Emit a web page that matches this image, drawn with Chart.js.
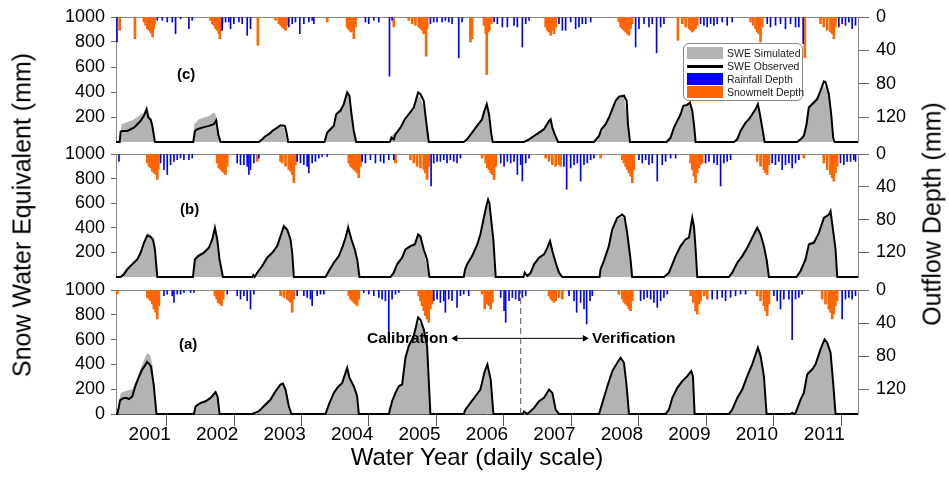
<!DOCTYPE html>
<html>
<head>
<meta charset="utf-8">
<script src="https://cdn.jsdelivr.net/npm/chart.js@4.4.1/dist/chart.umd.min.js"></script>
<style>
  html, body { margin: 0; padding: 0; background: #fff; }
  body { width: 949px; height: 478px; position: relative; overflow: hidden;
         font-family: Arial, "Liberation Sans", sans-serif; }
  .panel { position: absolute; left: 0; width: 949px; }
  .txt { position: absolute; white-space: nowrap; line-height: 1; color: #000; }
  .bold { font-weight: bold; }
  #legend { position: absolute; left: 683px; top: 43px; width: 118px; height: 56px;
            border: 1px solid #888; border-radius: 6px; background: #fff; }
  .row { position: absolute; left: 0; width: 118px; height: 12px; }
  .sw { position: absolute; left: 3px; top: 0; width: 36px; height: 12px; }
  .lab { position: absolute; left: 43px; top: 0; font-size: 10.5px; line-height: 12px; color: #222; white-space: nowrap; }
</style>
</head>
<body>
<div class="panel" style="top:-1px;height:161px"><canvas id="chartC"></canvas></div>
<div class="panel" style="top:136px;height:159px"><canvas id="chartB"></canvas></div>
<div class="panel" style="top:272px;height:172px"><canvas id="chartA"></canvas></div>

<div class="txt bold" style="left:177px;top:66px;font-size:15px">(c)</div>
<div class="txt bold" style="left:180px;top:201px;font-size:15px">(b)</div>
<div class="txt bold" style="left:179px;top:336px;font-size:15px">(a)</div>
<div class="txt bold" style="left:367px;top:330px;font-size:15.5px">Calibration</div>
<div class="txt bold" style="left:592px;top:330px;font-size:15.5px">Verification</div>

<div class="txt" style="left:22px;top:215px;font-size:25px;transform:translate(-50%,-50%) rotate(-90deg)">Snow Water Equivalent (mm)</div>
<div class="txt" style="left:932px;top:214px;font-size:25px;transform:translate(-50%,-50%) rotate(-90deg)">Outflow Depth (mm)</div>
<div class="txt" style="left:477px;top:445px;font-size:24px;transform:translateX(-50%)">Water Year (daily scale)</div>

<div id="legend">
  <div class="row" style="top:3px"><div class="sw" style="background:#b3b3b3"></div><div class="lab">SWE Simulated</div></div>
  <div class="row" style="top:16px"><div class="sw" style="top:5px;height:2.5px;background:#000"></div><div class="lab">SWE Observed</div></div>
  <div class="row" style="top:29px"><div class="sw" style="background:#0000ff"></div><div class="lab">Rainfall Depth</div></div>
  <div class="row" style="top:42px"><div class="sw" style="background:#ff6600"></div><div class="lab">Snowmelt Depth</div></div>
</div>

<script>
// ejes
const yearLabels = ['2001','2002','2003','2004','2005','2006','2007','2008','2009','2010','2011'];
const sweTicksTop = [200, 400, 600, 800, 1000];
const sweTicksBottom = [0, 200, 400, 600, 800, 1000];
const outflowTicks = [0, 40, 80, 120];

// SWE: [water year (0 = 1 Oct 2000), mm]
const obsC = [[0,0],[0.054,0],[0.069,83],[0.093,88],[0.167,88],[0.217,102],[0.266,115],[0.316,142],[0.365,169],[0.414,209],[0.454,263],[0.478,196],[0.513,180],[0.538,130],[0.577,0],
  [1.145,0],[1.170,88],[1.204,102],[1.278,115],[1.377,129],[1.451,142],[1.486,174],[1.516,62],[1.550,0],
  [2.118,0],[2.167,21],[2.217,48],[2.266,62],[2.316,88],[2.390,115],[2.439,134],[2.503,129],[2.523,88],[2.553,0],
  [3.091,0],[3.130,75],[3.180,102],[3.229,129],[3.264,222],[3.328,249],[3.377,303],[3.427,397],[3.461,370],[3.491,222],[3.525,88],[3.560,0],
  [4.059,0],[4.083,35],[4.118,21],[4.143,62],[4.217,115],[4.281,182],[4.340,222],[4.414,276],[4.479,397],[4.513,383],[4.562,330],[4.597,169],[4.637,0],
  [5.155,0],[5.204,21],[5.279,75],[5.353,129],[5.427,182],[5.456,240],[5.496,303],[5.530,222],[5.565,60],[5.585,0],
  [6.049,0],[6.123,21],[6.197,48],[6.271,75],[6.345,102],[6.420,169],[6.444,182],[6.469,115],[6.503,62],[6.553,0],
  [7.086,0],[7.160,48],[7.195,102],[7.259,142],[7.308,196],[7.358,263],[7.407,330],[7.456,362],[7.531,370],[7.570,330],[7.590,142],[7.620,0],
  [8.163,0],[8.222,35],[8.271,115],[8.321,169],[8.370,222],[8.410,290],[8.469,297],[8.509,316],[8.543,249],[8.568,142],[8.593,0],
  [9.160,0],[9.210,21],[9.259,88],[9.333,155],[9.383,182],[9.432,222],[9.482,263],[9.516,303],[9.546,222],[9.580,115],[9.615,0],
  [10.098,0],[10.148,21],[10.197,48],[10.237,142],[10.271,276],[10.345,316],[10.395,343],[10.444,410],[10.494,485],[10.519,478],[10.568,383],[10.603,222],[10.632,35],[10.652,0],[11,0]];
const simC = [[0,0],[0.054,0],[0.084,142],[0.143,155],[0.242,174],[0.341,209],[0.414,236],[0.439,268],[0.488,222],[0.538,169],[0.587,0],
  [1.145,0],[1.160,142],[1.229,182],[1.377,209],[1.451,236],[1.476,222],[1.516,88],[1.560,0],
  [2.118,0],[2.167,29],[2.266,75],[2.365,107],[2.439,129],[2.489,115],[2.538,0],
  [3.091,0],[3.130,88],[3.229,142],[3.264,236],[3.353,290],[3.402,370],[3.427,410],[3.476,343],[3.525,115],[3.575,0],
  [4.059,0],[4.074,48],[4.143,75],[4.242,142],[4.316,222],[4.390,263],[4.464,370],[4.513,357],[4.562,276],[4.612,115],[4.647,0],
  [5.155,0],[5.204,29],[5.279,88],[5.353,142],[5.427,200],[5.481,290],[5.530,230],[5.575,0],
  [6.049,0],[6.123,25],[6.197,56],[6.271,80],[6.345,115],[6.420,163],[6.444,170],[6.503,50],[6.553,0],
  [7.086,0],[7.160,55],[7.259,150],[7.358,270],[7.456,355],[7.531,360],[7.590,140],[7.620,0],
  [8.163,0],[8.222,40],[8.321,175],[8.410,300],[8.469,290],[8.509,300],[8.568,140],[8.593,0],
  [9.160,0],[9.259,95],[9.383,190],[9.482,270],[9.516,295],[9.580,110],[9.615,0],
  [10.098,0],[10.197,55],[10.271,290],[10.345,330],[10.444,400],[10.494,450],[10.568,380],[10.632,40],[10.652,0],[11,0]];

const obsB = [[0,0],[0.069,0],[0.118,22],[0.167,62],[0.241,103],[0.316,143],[0.365,197],[0.414,278],[0.464,338],[0.513,327],[0.548,305],[0.577,224],[0.612,0],
  [1.140,0],[1.170,143],[1.219,170],[1.303,197],[1.377,238],[1.427,305],[1.466,400],[1.501,305],[1.535,143],[1.585,0],
  [2.019,0],[2.035,15],[2.055,0],[2.093,35],[2.167,89],[2.241,157],[2.316,197],[2.390,251],[2.439,332],[2.488,413],[2.538,386],[2.587,305],[2.612,197],[2.637,0],
  [3.106,0],[3.155,49],[3.229,116],[3.303,170],[3.362,251],[3.402,319],[3.442,400],[3.491,305],[3.540,224],[3.575,143],[3.610,0],
  [4.069,0],[4.118,35],[4.167,103],[4.241,157],[4.291,224],[4.365,251],[4.430,265],[4.479,346],[4.513,330],[4.562,224],[4.612,143],[4.646,0],
  [5.155,0],[5.175,60],[5.204,103],[5.279,170],[5.353,260],[5.403,350],[5.452,480],[5.496,590],[5.516,630],[5.535,600],[5.555,500],[5.595,300],[5.629,0],
  [6.039,0],[6.059,35],[6.098,8],[6.148,35],[6.197,103],[6.271,157],[6.345,184],[6.395,238],[6.434,292],[6.469,211],[6.518,116],[6.568,35],[6.617,0],
  [7.168,0],[7.183,62],[7.232,130],[7.306,251],[7.356,386],[7.430,481],[7.504,508],[7.539,490],[7.578,359],[7.628,143],[7.652,0],
  [8.123,0],[8.197,35],[8.247,103],[8.296,170],[8.370,251],[8.444,305],[8.494,320],[8.543,481],[8.568,413],[8.593,224],[8.617,0],
  [9.086,0],[9.135,35],[9.210,116],[9.284,170],[9.358,238],[9.432,319],[9.506,400],[9.556,346],[9.605,251],[9.645,143],[9.680,0],
  [10.089,0],[10.148,49],[10.222,143],[10.271,265],[10.345,278],[10.420,359],[10.494,481],[10.568,508],[10.593,535],[10.642,332],[10.667,224],[10.692,0],[11,0]];
const simB = [[0,0],[0.069,0],[0.110,40],[0.167,80],[0.241,115],[0.316,160],[0.365,215],[0.414,290],[0.464,360],[0.513,345],[0.548,300],[0.587,200],[0.617,0],
  [1.140,0],[1.165,150],[1.219,185],[1.303,210],[1.377,250],[1.427,320],[1.461,420],[1.501,310],[1.535,130],[1.580,0],
  [2.019,0],[2.093,40],[2.167,95],[2.241,165],[2.316,205],[2.390,260],[2.439,340],[2.483,420],[2.538,380],[2.587,290],[2.630,0],
  [3.106,0],[3.155,55],[3.229,125],[3.303,180],[3.362,265],[3.402,335],[3.437,455],[3.491,320],[3.540,215],[3.600,0],
  [4.069,0],[4.118,40],[4.167,110],[4.241,165],[4.291,230],[4.365,265],[4.430,280],[4.474,345],[4.513,320],[4.562,210],[4.640,0],
  [5.155,0],[5.204,110],[5.279,180],[5.353,275],[5.403,360],[5.452,470],[5.496,580],[5.516,600],[5.555,480],[5.595,280],[5.629,0],
  [6.039,0],[6.098,10],[6.148,40],[6.197,110],[6.271,165],[6.345,195],[6.395,245],[6.434,285],[6.469,200],[6.518,100],[6.568,30],[6.617,0],
  [7.168,0],[7.232,140],[7.306,260],[7.356,380],[7.430,470],[7.504,490],[7.539,470],[7.578,340],[7.628,130],[7.652,0],
  [8.123,0],[8.197,40],[8.296,180],[8.370,260],[8.444,285],[8.494,330],[8.543,460],[8.568,400],[8.593,220],[8.617,0],
  [9.086,0],[9.135,40],[9.210,120],[9.284,175],[9.358,245],[9.432,325],[9.506,395],[9.556,340],[9.605,240],[9.645,130],[9.680,0],
  [10.089,0],[10.148,55],[10.222,160],[10.271,280],[10.345,290],[10.420,370],[10.494,490],[10.568,500],[10.593,510],[10.642,320],[10.692,0],[11,0]];

const obsA = [[0,0],[0.019,0],[0.040,50],[0.060,110],[0.100,125],[0.150,130],[0.190,120],[0.240,140],[0.290,230],[0.340,300],[0.390,360],[0.440,400],[0.460,420],[0.490,405],[0.520,380],[0.560,230],[0.600,0],
  [1.155,0],[1.180,62],[1.254,89],[1.328,103],[1.402,130],[1.476,176],[1.506,140],[1.536,0],
  [2.019,0],[2.118,22],[2.217,76],[2.291,116],[2.365,184],[2.439,238],[2.474,246],[2.513,197],[2.562,62],[2.602,0],
  [3.106,0],[3.155,76],[3.229,170],[3.279,211],[3.353,251],[3.402,332],[3.427,373],[3.461,292],[3.525,224],[3.575,143],[3.600,0],
  [4.044,0],[4.093,103],[4.143,170],[4.192,224],[4.242,238],[4.291,454],[4.340,548],[4.414,629],[4.479,778],[4.513,760],[4.562,683],[4.612,548],[4.661,0],
  [5.155,0],[5.180,35],[5.254,89],[5.328,143],[5.402,197],[5.467,346],[5.506,400],[5.555,278],[5.595,0],
  [6.030,0],[6.049,20],[6.098,0],[6.197,49],[6.271,103],[6.345,130],[6.420,197],[6.469,170],[6.518,35],[6.568,0],
  [7.160,0],[7.210,89],[7.284,224],[7.358,346],[7.432,413],[7.481,454],[7.531,413],[7.570,224],[7.605,0],
  [8.148,0],[8.197,35],[8.247,130],[8.321,211],[8.395,265],[8.469,305],[8.528,346],[8.553,305],[8.578,0],
  [9.086,0],[9.135,35],[9.210,130],[9.284,197],[9.358,305],[9.432,400],[9.516,535],[9.556,467],[9.605,305],[9.645,0],
  [10.000,0],[10.025,10],[10.049,0],[10.074,8],[10.148,116],[10.197,170],[10.247,319],[10.321,359],[10.370,400],[10.444,521],[10.504,602],[10.543,575],[10.593,494],[10.632,250],[10.667,0],[11,0]];
const simA = [[0,0],[0.019,0],[0.050,120],[0.070,170],[0.140,185],[0.240,200],[0.320,300],[0.390,400],[0.440,470],[0.470,490],[0.510,470],[0.540,400],[0.580,150],[0.610,0],
  [1.155,0],[1.180,70],[1.254,95],[1.328,110],[1.402,140],[1.476,180],[1.506,150],[1.536,0],
  [2.019,0],[2.118,30],[2.217,90],[2.291,130],[2.365,200],[2.439,245],[2.474,250],[2.513,210],[2.562,70],[2.610,0],
  [3.106,0],[3.155,90],[3.229,180],[3.279,215],[3.353,255],[3.402,330],[3.427,360],[3.461,300],[3.525,210],[3.575,120],[3.600,0],
  [4.044,0],[4.093,110],[4.143,180],[4.192,230],[4.242,245],[4.291,450],[4.340,540],[4.414,620],[4.479,740],[4.513,730],[4.562,670],[4.612,540],[4.661,0],
  [5.155,0],[5.180,40],[5.254,95],[5.328,150],[5.402,205],[5.467,340],[5.506,390],[5.555,270],[5.600,0],
  [6.030,0],[6.049,20],[6.098,0],[6.197,55],[6.271,110],[6.345,140],[6.420,190],[6.469,160],[6.518,30],[6.568,0],
  [7.160,0],[7.210,95],[7.284,235],[7.358,330],[7.432,395],[7.481,440],[7.531,410],[7.570,220],[7.605,0],
  [8.148,0],[8.197,40],[8.247,140],[8.321,225],[8.395,275],[8.469,300],[8.528,335],[8.553,300],[8.578,0],
  [9.086,0],[9.135,40],[9.210,135],[9.284,200],[9.358,300],[9.432,390],[9.516,520],[9.556,460],[9.605,300],[9.645,0],
  [10.000,0],[10.025,10],[10.049,0],[10.148,130],[10.197,185],[10.247,340],[10.321,370],[10.370,400],[10.444,510],[10.504,580],[10.543,565],[10.593,480],[10.632,240],[10.667,0],[11,0]];

// lluvia y deshielo: [water year, mm]
const rainC = [[0.014,30],[0.612,4],[0.686,4],[0.760,6],[0.834,6],[0.883,20],[0.957,2],[1.081,14],[1.130,4],
  [1.575,16],[1.624,6],[1.673,6],[1.698,14],[1.747,8],[1.822,6],[1.871,8],[1.945,22],[1.994,14],
  [2.562,12],[2.612,8],[2.661,6],[2.725,20],[2.785,8],[2.859,6],[2.908,4],[2.933,8],
  [3.698,6],[3.747,8],[3.822,4],[3.896,6],[4.054,71],[4.093,4],
  [4.661,8],[4.710,6],[4.760,6],[4.834,6],[4.883,4],[4.933,6],[4.982,8],[5.081,49],[5.130,6],
  [5.605,6],[5.654,8],[5.728,12],[5.802,12],[5.901,10],[5.950,12],[6.024,36],[6.074,8],[6.123,4],
  [6.567,8],[6.617,16],[6.666,16],[6.740,6],[6.814,14],[6.864,12],[6.913,8],[6.963,8],[7.037,6],
  [7.703,36],[7.753,14],[7.827,8],[7.901,12],[7.950,8],[8.014,43],[8.074,12],[8.123,8],
  [8.666,8],[8.716,10],[8.765,12],[8.815,8],[8.864,10],[8.913,8],[8.987,6],[9.061,10],[9.135,6],
  [9.654,8],[9.703,12],[9.777,10],[9.851,8],[9.925,14],[10.000,8],[10.074,12],[10.123,12],[10.187,32],
  [10.716,12],[10.765,8],[10.815,10],[10.864,6],[10.913,14],[10.963,10]];
const meltC = [[0.054,16],[0.281,26],[0.414,6],[0.439,10],[0.464,14],[0.488,16],[0.513,18],[0.528,20],[0.543,24],[0.558,14],[0.572,8],
  [1.402,4],[1.427,8],[1.451,10],[1.476,14],[1.501,16],[1.525,20],[1.540,26],[1.555,16],[1.575,8],
  [2.103,34],[2.365,4],[2.414,8],[2.439,10],[2.464,12],[2.488,14],[2.513,16],[2.538,10],
  [3.130,6],[3.427,12],[3.441,14],[3.461,16],[3.481,18],[3.501,16],[3.525,26],[3.550,12],
  [4.118,12],[4.340,4],[4.390,8],[4.439,10],[4.488,12],[4.513,14],[4.538,16],[4.562,20],[4.597,47],[4.612,14],
  [5.254,30],[5.279,26],[5.456,10],[5.481,20],[5.496,69],[5.516,18],[5.535,16],[5.565,8],
  [6.370,12],[6.395,16],[6.419,18],[6.444,22],[6.469,16],[6.493,20],[6.518,12],
  [7.456,6],[7.481,12],[7.506,14],[7.530,16],[7.555,18],[7.580,20],[7.604,22],[7.629,14],[7.654,8],
  [8.330,28],[8.395,8],[8.444,12],[8.493,14],[8.518,16],[8.543,18],[8.567,16],[8.592,14],[8.617,10],
  [9.407,6],[9.446,10],[9.481,14],[9.506,18],[9.530,20],[9.555,30],[9.580,12],
  [10.212,49],[10.444,8],[10.493,12],[10.543,16],[10.592,18],[10.617,20],[10.642,26],[10.666,12]];

const rainB = [[0.044,9],[0.661,11],[0.711,19],[0.760,25],[0.809,13],[0.859,9],[0.908,7],[0.957,5],[1.007,7],[1.081,7],[1.130,5],
  [1.797,11],[1.846,13],[1.896,13],[1.945,15],[1.970,25],[1.994,19],[2.044,11],[2.118,5],
  [2.686,9],[2.735,11],[2.785,13],[2.834,15],[2.859,23],[2.908,11],[2.957,9],[3.007,5],[3.056,3],[3.130,3],
  [3.649,9],[3.698,11],[3.772,7],[3.846,11],[3.921,9],[3.970,11],[4.044,7],[4.118,7],
  [4.671,39],[4.710,11],[4.760,9],[4.809,9],[4.859,7],[4.908,11],[4.957,7],[5.007,9],[5.056,11],[5.106,5],
  [5.703,11],[5.753,15],[5.802,9],[5.851,11],[5.901,9],[5.950,25],[6.000,13],[6.024,33],[6.074,11],[6.123,5],
  [6.641,15],[6.681,43],[6.740,17],[6.790,13],[6.839,11],[6.888,33],[6.938,13],[6.987,11],[7.037,7],[7.086,5],
  [7.753,7],[7.802,11],[7.852,7],[7.901,13],[7.950,11],[8.024,33],[8.098,13],[8.148,9],[8.222,5],[8.296,5],
  [8.740,11],[8.790,9],[8.864,11],[8.913,13],[8.963,39],[9.012,11],[9.061,9],[9.111,7],
  [9.728,11],[9.777,13],[9.827,9],[9.876,19],[9.925,13],[9.975,11],[10.024,17],[10.074,11],[10.123,7],
  [10.740,11],[10.790,13],[10.839,9],[10.889,9],[10.938,7],[10.963,9]];
const meltB = [[0.464,11],[0.488,15],[0.513,17],[0.538,21],[0.562,23],[0.587,25],[0.612,31],[0.627,19],
  [1.501,11],[1.525,17],[1.550,19],[1.575,21],[1.599,23],[1.624,25],[1.649,15],
  [2.093,9],[2.439,9],[2.464,11],[2.513,15],[2.562,19],[2.587,21],[2.612,25],[2.636,35],[2.661,13],
  [3.451,11],[3.476,15],[3.501,17],[3.525,19],[3.550,21],[3.575,23],[3.599,29],[3.624,15],
  [4.143,11],[4.365,7],[4.414,11],[4.464,15],[4.513,17],[4.562,19],[4.587,23],[4.612,31],[4.636,15],
  [5.427,5],[5.481,11],[5.506,17],[5.530,19],[5.555,23],[5.580,25],[5.604,31],[5.629,15],
  [6.370,5],[6.419,9],[6.469,13],[6.518,15],[6.567,13],[6.592,15],
  [7.185,5],[7.506,7],[7.530,11],[7.555,15],[7.580,19],[7.604,23],[7.629,27],[7.654,35],[7.678,19],
  [8.518,11],[8.543,19],[8.567,27],[8.592,35],[8.617,23],[8.641,17],[8.666,13],[8.691,11],
  [9.506,9],[9.555,15],[9.604,19],[9.629,23],[9.654,25],[9.679,13],
  [10.197,5],[10.493,11],[10.543,19],[10.592,25],[10.617,29],[10.642,33],[10.666,23],[10.691,15]];

const rainA = [[0.711,7],[0.760,5],[0.834,7],[0.859,15],[0.908,5],[0.957,5],[1.007,3],[1.106,3],[1.155,3],
  [1.649,5],[1.797,7],[1.846,11],[1.896,7],[1.945,13],[1.994,23],[2.044,5],
  [2.686,7],[2.785,7],[2.834,9],[2.883,11],[2.908,19],[2.982,7],[3.032,5],[3.081,5],
  [3.673,3],[3.747,5],[3.822,7],[3.896,9],[3.945,11],[3.994,13],[4.044,64],[4.093,11],[4.143,5],[4.192,3],
  [4.711,13],[4.760,11],[4.809,15],[4.859,13],[4.883,27],[4.933,11],[4.982,13],[5.056,21],[5.106,7],[5.155,5],[5.229,7],
  [5.703,9],[5.753,25],[5.777,39],[5.827,13],[5.876,9],[5.925,11],[5.975,13],[6.024,9],[6.074,7],
  [6.716,7],[6.790,13],[6.829,27],[6.888,15],[6.938,23],[6.977,41],[7.027,13],[7.061,7],
  [7.777,13],[7.827,11],[7.876,9],[7.926,11],[7.975,15],[8.024,21],[8.074,13],[8.123,9],[8.173,5],
  [8.839,11],[8.913,11],[8.987,9],[9.037,13],[9.111,9],[9.185,7],[9.259,5],[9.333,5],
  [9.753,7],[9.802,13],[9.851,23],[9.901,11],[9.975,11],[10.024,60],[10.074,11],[10.123,9],[10.172,5],
  [10.765,35],[10.815,11],[10.864,9],[10.913,11],[10.963,7]];
const meltA = [[0.019,5],[0.464,9],[0.488,11],[0.513,13],[0.538,17],[0.562,23],[0.587,27],[0.612,35],[0.636,19],
  [1.466,7],[1.491,11],[1.515,15],[1.540,17],[1.565,19],[1.590,11],
  [2.439,7],[2.488,9],[2.538,11],[2.562,13],[2.587,15],[2.612,27],[2.636,11],
  [3.451,7],[3.476,11],[3.501,13],[3.525,15],[3.550,17],[3.575,19],[3.599,11],
  [4.488,7],[4.513,13],[4.538,19],[4.562,25],[4.587,31],[4.612,35],[4.636,39],[4.661,23],[4.686,17],
  [5.427,5],[5.466,23],[5.481,11],[5.506,17],[5.530,19],[5.555,23],[5.580,15],
  [6.419,7],[6.444,11],[6.469,13],[6.493,15],[6.518,13],[6.567,9],[6.617,11],
  [7.456,5],[7.506,11],[7.530,15],[7.555,17],[7.580,19],[7.604,23],[7.629,25],[7.654,13],
  [8.518,7],[8.558,15],[8.592,25],[8.617,29],[8.641,17],[8.666,13],[8.716,7],[8.765,11],
  [9.506,7],[9.555,13],[9.604,19],[9.629,25],[9.654,31],[9.679,17],
  [10.469,11],[10.518,17],[10.567,23],[10.592,27],[10.617,35],[10.642,29],[10.666,19],[10.691,13]];

// calibración / verificación
const splitLine = [[6, 0], [6, 1000]];
const periodArrow = [[5.03, 610], [6.95, 610]];

Chart.defaults.font.family = 'Arial, "Liberation Sans", sans-serif';
Chart.defaults.color = '#000';

const toXY = arr => arr.map(p => ({ x: p[0], y: p[1] }));
const xTickVals = [];
yearLabels.forEach((_, i) => { xTickVals.push(i, i + 0.5); });
xTickVals.push(yearLabels.length);
const clear = 'rgba(0,0,0,0)';

function buildPanel(id, obs, sim, rain, melt, swTicks, bottom, extra) {
  const datasets = [
    { type: 'line', data: toXY(obs), borderColor: '#000', borderWidth: 2, pointRadius: 0,
      fill: false, yAxisID: 'y', order: 0, clip: 4 },
    { type: 'line', data: toXY(sim), borderColor: clear, borderWidth: 0, backgroundColor: '#b3b3b3',
      fill: 'origin', pointRadius: 0, yAxisID: 'y', order: 1 },
    { type: 'bar', data: toXY(rain), backgroundColor: '#0000ff', barThickness: 1,
      grouped: false, yAxisID: 'y2', order: 2 },
    { type: 'bar', data: toXY(melt), backgroundColor: '#ff6600', barThickness: 2,
      grouped: false, yAxisID: 'y2', order: 2 }
  ].concat(extra || []);

  new Chart(document.getElementById(id), {
    type: 'line',
    data: { datasets },
    options: {
      responsive: true,
      maintainAspectRatio: false,
      animation: false,
      events: [],
      layout: { padding: { top: 18, bottom: bottom ? 0 : 18, left: 0, right: 0 } },
      plugins: { legend: { display: false }, tooltip: { enabled: false } },
      scales: {
        x: {
          type: 'linear', min: 0, max: 11, offset: false, display: bottom,
          afterBuildTicks: s => { s.ticks = xTickVals.map(v => ({ value: v })); },
          afterFit: s => { if (bottom) s.height = 30; },
          grid: {
            drawOnChartArea: false, tickLength: 12,
            color: c => (c.tick && c.tick.value % 1 === 0) ? '#555' : clear,
            tickColor: c => (c.tick && c.tick.value % 1 === 0) ? '#555' : clear
          },
          border: { color: '#555' },
          ticks: {
            autoSkip: false, maxRotation: 0, padding: -3, font: { size: 19 },
            callback: v => (v % 1 === 0.5) ? yearLabels[Math.floor(v)] : ''
          }
        },
        y: {
          position: 'left', min: 0, max: 1000,
          afterBuildTicks: s => { s.ticks = swTicks.map(v => ({ value: v })); },
          afterFit: s => { s.width = 116; },
          grid: {
            drawOnChartArea: true, tickLength: 5, tickColor: '#666',
            color: c => (c.tick && c.tick.value === 1000) ? '#888' : clear
          },
          border: { color: '#888' },
          ticks: { autoSkip: false, font: { size: 18 }, padding: 6, callback: v => String(v) }
        },
        y2: {
          position: 'right', min: 0, max: 150, reverse: true,
          afterBuildTicks: s => { s.ticks = outflowTicks.map(v => ({ value: v })); },
          afterFit: s => { s.width = 91; },
          grid: { drawOnChartArea: false, tickLength: 11, tickColor: '#666' },
          border: { color: '#888' },
          ticks: { autoSkip: false, font: { size: 18 }, padding: 7, callback: v => String(v) }
        }
      }
    }
  });
}

buildPanel('chartC', obsC, simC, rainC, meltC, sweTicksTop, false);
buildPanel('chartB', obsB, simB, rainB, meltB, sweTicksTop, false);
buildPanel('chartA', obsA, simA, rainA, meltA, sweTicksBottom, true, [
  { type: 'line', data: toXY(splitLine), borderColor: '#555', borderWidth: 1, borderDash: [6, 4],
    pointRadius: 0, yAxisID: 'y', order: 0 },
  { type: 'line', data: toXY(periodArrow), borderColor: '#000', borderWidth: 1,
    pointStyle: 'triangle', pointRadius: 4, pointRotation: [-90, 90],
    pointBackgroundColor: '#000', pointBorderWidth: 0, yAxisID: 'y', order: 0 }
]);
</script>
</body>
</html>
